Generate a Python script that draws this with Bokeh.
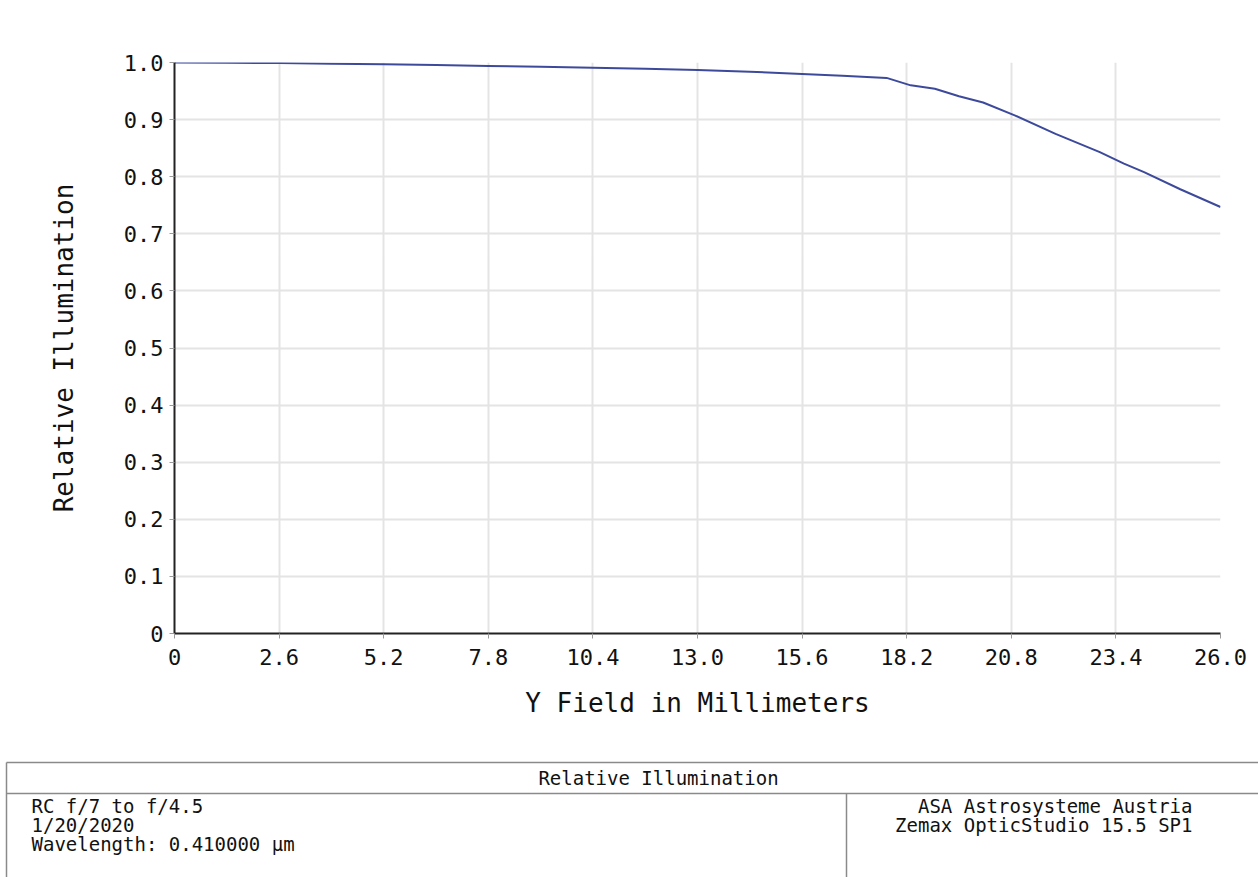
from bokeh.plotting import figure
from bokeh.models import Range1d, FixedTicker, PrintfTickFormatter
from bokeh.layouts import column
from bokeh.embed import file_html
from bokeh.resources import INLINE
from bokeh.core.properties import value

# ---- data ----
field_mm = [0, 1.3, 2.6, 3.9, 5.2, 6.5, 7.8, 9.1, 10.4, 11.7, 13.0, 14.3, 15.6, 16.6,
            17.7, 18.3, 18.9, 19.5, 20.1, 20.9, 21.9, 23.0, 23.6, 24.1, 25.0, 26.0]
rel_illum = [1.0, 0.9995, 0.999, 0.998, 0.997, 0.9955, 0.994, 0.9925, 0.991, 0.989,
             0.987, 0.984, 0.980, 0.977, 0.973, 0.960, 0.954, 0.941, 0.930, 0.907,
             0.875, 0.843, 0.823, 0.808, 0.778, 0.747]
x_ticks = [0, 2.6, 5.2, 7.8, 10.4, 13.0, 15.6, 18.2, 20.8, 23.4, 26.0]
y_ticks = [0, 0.1, 0.2, 0.3, 0.4, 0.5, 0.6, 0.7, 0.8, 0.9, 1.0]

title_text = "Relative Illumination"
left_info = ["RC f/7 to f/4.5", "1/20/2020", "Wavelength: 0.410000 \u00b5m"]
right_info = ["ASA Astrosysteme Austria", "Zemax OpticStudio 15.5 SP1"]

FONT = "DejaVu Sans Mono"
W = 1258
H_MAIN = 750
H_BOX = 877 - H_MAIN

p = figure(width=W, height=H_MAIN, output_backend="svg", toolbar_location=None,
           x_range=Range1d(0, 26), y_range=Range1d(0, 1.0),
           min_border_left=174, min_border_right=38, min_border_top=62,
           min_border_bottom=H_MAIN - 633, background_fill_color="white",
           border_fill_color="white", outline_line_color=None)
p.frame_align = False

p.line(field_mm, rel_illum, line_color="#3d4a9c", line_width=2)

p.xaxis.ticker = FixedTicker(ticks=x_ticks)
p.yaxis.ticker = FixedTicker(ticks=y_ticks)
p.xaxis.formatter = PrintfTickFormatter(format="%.1f")
p.yaxis.formatter = PrintfTickFormatter(format="%.1f")
p.xaxis.major_label_overrides = {0: "0"}
p.yaxis.major_label_overrides = {0: "0"}

for ax in (p.xaxis, p.yaxis):
    ax.axis_line_color = "#222222"
    ax.axis_line_width = 2
    ax.major_tick_line_color = "#999999"
    ax.major_tick_in = 0
    ax.major_tick_out = 5
    ax.minor_tick_line_color = None
    ax.major_label_text_font = FONT
    ax.major_label_text_font_size = "22px"
    ax.major_label_text_color = "#111111"
    ax.axis_label_text_font = FONT
    ax.axis_label_text_font_size = "26px"
    ax.axis_label_text_font_style = "normal"
    ax.axis_label_text_color = "#111111"

p.xaxis.axis_label = "Y Field in Millimeters"
p.yaxis.axis_label = "Relative Illumination"
p.xaxis.major_label_standoff = 10
p.yaxis.major_label_standoff = 6
p.xaxis.axis_label_standoff = 20
p.yaxis.axis_label_standoff = 42

p.grid.grid_line_color = "#e4e4e4"
p.grid.grid_line_width = 2

# ---- info box below ----
b = figure(width=W, height=H_BOX, output_backend="svg", toolbar_location=None,
           x_range=Range1d(0, W), y_range=Range1d(H_BOX, 0),
           min_border=0, outline_line_color=None,
           background_fill_color="white", border_fill_color="white")
b.frame_align = False
b.axis.visible = False
b.grid.visible = False

box_col = "#8a8a8a"
b.segment(x0=[6, 6, 6, 846], y0=[12, 43, 12, 43], x1=[W, W, 6, 846], y1=[12, 43, H_BOX, H_BOX],
          line_color=box_col, line_width=1.5)

b.text(x=[658], y=[27], text=[title_text], text_align="center", text_baseline="middle",
       text_font=value(FONT), text_font_size="19px", text_color="#111111")
b.text(x=[31] * len(left_info), y=[55 + 19 * i for i in range(len(left_info))], text=left_info,
       text_align="left", text_baseline="middle",
       text_font=value(FONT), text_font_size="19px", text_color="#111111")
b.text(x=[1192] * len(right_info), y=[55 + 19 * i for i in range(len(right_info))], text=right_info,
       text_align="right", text_baseline="middle",
       text_font=value(FONT), text_font_size="19px", text_color="#111111")

layout = column(p, b, spacing=0)
open("out.html", "w").write(file_html(layout, INLINE))
